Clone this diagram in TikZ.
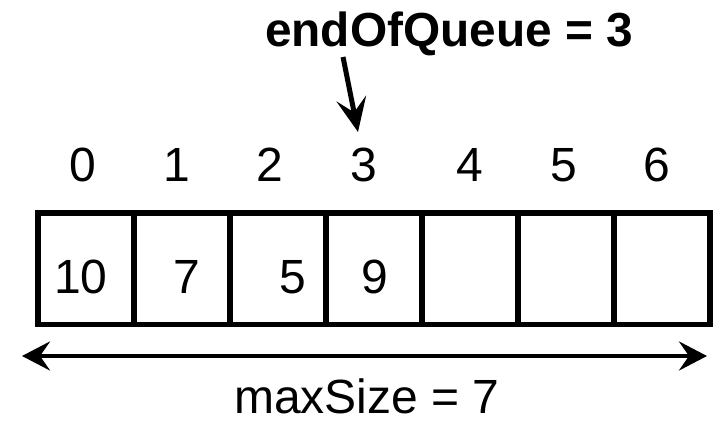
\documentclass[tikz,border=0pt]{standalone}
\usepackage{fontspec}
\setmainfont{Liberation Sans}
\usetikzlibrary{arrows.meta}
\tikzset{
  cell/.style={draw, line width=5.5pt, minimum width=96pt, minimum height=111.5pt, inner sep=0pt, outer sep=0pt},
  txt/.style={anchor=base, inner sep=0pt, outer sep=0pt, font=\fontsize{48}{48}\selectfont},
  title/.style={anchor=base, inner sep=0pt, outer sep=0pt, font=\fontsize{47.8}{48}\selectfont\bfseries},
  arr/.style={line width=5pt, -{Stealth[length=34pt, width=30pt, inset=14pt]}},
  dbl/.style={line width=4.5pt, {Stealth[length=28pt, width=29pt, inset=10pt]}-{Stealth[length=28pt, width=29pt, inset=10pt]}}
}
\begin{document}
\begin{tikzpicture}[x=1pt, y=-1pt]
\useasboundingbox (0,0) rectangle (713,425);
% cells
\foreach \i in {0,...,6} {
  \node[cell] (c\i) at ({86+96*\i}, 268.75) {};
}
% values
\node[txt] (v0) at (81,293) {10};
\node[txt] (v1) at (187,293) {7};
\node[txt] (v2) at (293,293) {5};
\node[txt] (v3) at (374.5,293) {9};
% indices
\node[txt] (i0) at (82.5,182) {0};
\node[txt] (i1) at (177,182) {1};
\node[txt] (i2) at (270,182) {2};
\node[txt] (i3) at (363.5,182) {3};
\node[txt] (i4) at (470,182) {4};
\node[txt] (i5) at (563.5,182) {5};
\node[txt] (i6) at (656.5,182) {6};
% title
\node[title] (eq) at (449,47) {endOfQueue = 3};
\coordinate (as) at (343,57);
\coordinate (ae) at (358,132);
\draw[arr] (as) -- (ae);
% size arrow
\coordinate (L) at (22,356);
\coordinate (R) at (707,356);
\draw[dbl] (L) -- (R);
\node[txt] (ms) at (367,413) {maxSize = 7};
\end{tikzpicture}
\end{document}
